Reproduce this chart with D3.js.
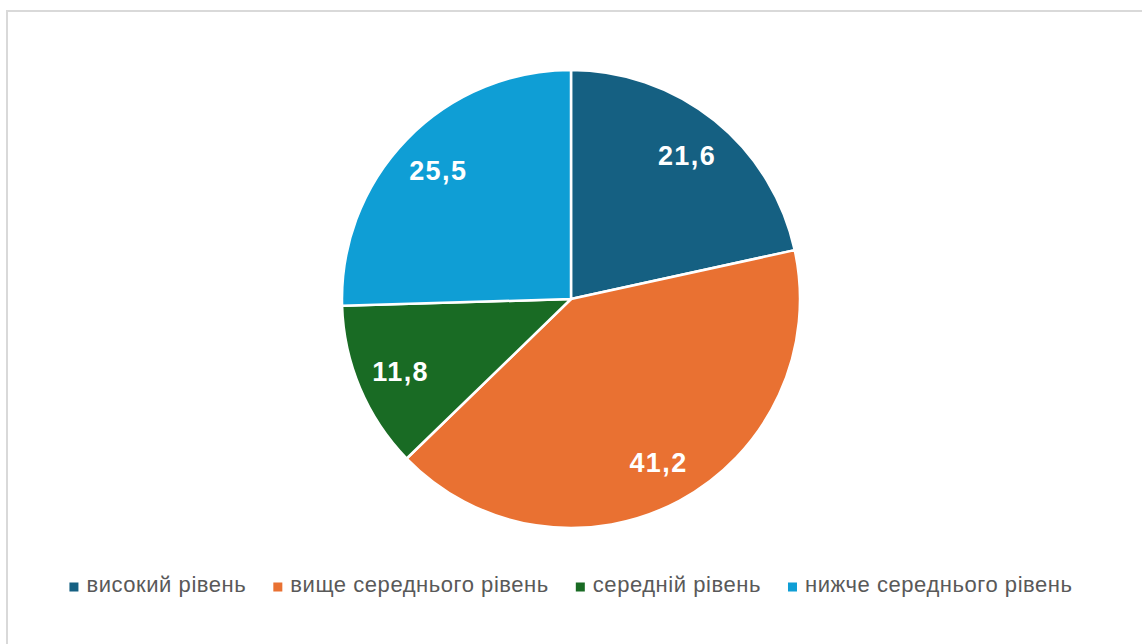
<!DOCTYPE html>
<html>
<head>
<meta charset="utf-8">
<script src="https://cdn.jsdelivr.net/npm/d3@7"></script>
<style>
  html, body { margin: 0; padding: 0; background: #ffffff; }
  svg { display: block; }
</style>
</head>
<body>
<svg id="chart" width="1142" height="644"></svg>
<script>
// Distribution of levels, percent
const categories = ["високий рівень", "вище середнього рівень", "середній рівень", "нижче середнього рівень"];
const values = [21.6, 41.2, 11.8, 25.5];
const colors = ["#156082", "#E97132", "#196B24", "#0F9ED5"];

const width = 1142, height = 644;
const svg = d3.select("#chart");

// chart frame
svg.append("rect")
  .attr("x", 7).attr("y", 11)
  .attr("width", width + 20).attr("height", height + 20)
  .attr("fill", "#ffffff")
  .attr("stroke", "#d9d9d9")
  .attr("stroke-width", 2);

const cx = 571, cy = 299, radius = 229;
const data = categories.map((c, i) => ({ name: c, value: values[i], color: colors[i] }));

const pie = d3.pie().value(d => d.value).sort(null);
const arcs = pie(data);
const arc = d3.arc().innerRadius(0).outerRadius(radius);
const labelArc = d3.arc().innerRadius(185).outerRadius(185);

const g = svg.append("g").attr("transform", `translate(${cx},${cy})`);

g.selectAll("path.slice")
  .data(arcs)
  .join("path")
  .attr("class", "slice")
  .attr("d", arc)
  .attr("fill", d => d.data.color)
  .attr("stroke", "#ffffff")
  .attr("stroke-width", 2.5)
  .attr("stroke-linejoin", "round");

const fmt = v => String(v).replace(".", ",");

g.selectAll("text.val")
  .data(arcs)
  .join("text")
  .attr("class", "val")
  .attr("transform", d => `translate(${labelArc.centroid(d)})`)
  .attr("text-anchor", "middle")
  .attr("dy", "0.36em")
  .attr("font-family", "'Liberation Sans', Arial, sans-serif")
  .attr("font-weight", "bold")
  .attr("font-size", 27)
  .attr("letter-spacing", 1.4)
  .attr("fill", "#ffffff")
  .text(d => fmt(d.data.value));

// legend, centred under the pie
const legend = svg.append("g");
const items = legend.selectAll("g.item")
  .data(data)
  .join("g")
  .attr("class", "item");

items.append("rect")
  .attr("width", 9).attr("height", 9)
  .attr("y", -9.5)
  .attr("fill", d => d.color);

items.append("text")
  .attr("x", 17)
  .attr("font-family", "'Liberation Sans', Arial, sans-serif")
  .attr("font-size", 22)
  .attr("letter-spacing", 0.55)
  .attr("fill", "#595959")
  .text(d => d.name);

let xpos = 0;
const gap = 27;
items.each(function () {
  const w = this.querySelector("text").getComputedTextLength() + 17;
  d3.select(this).attr("transform", `translate(${xpos},0)`);
  xpos += w + gap;
});
const total = xpos - gap;
legend.attr("transform", `translate(${cx - total / 2},${592})`);
</script>
</body>
</html>
